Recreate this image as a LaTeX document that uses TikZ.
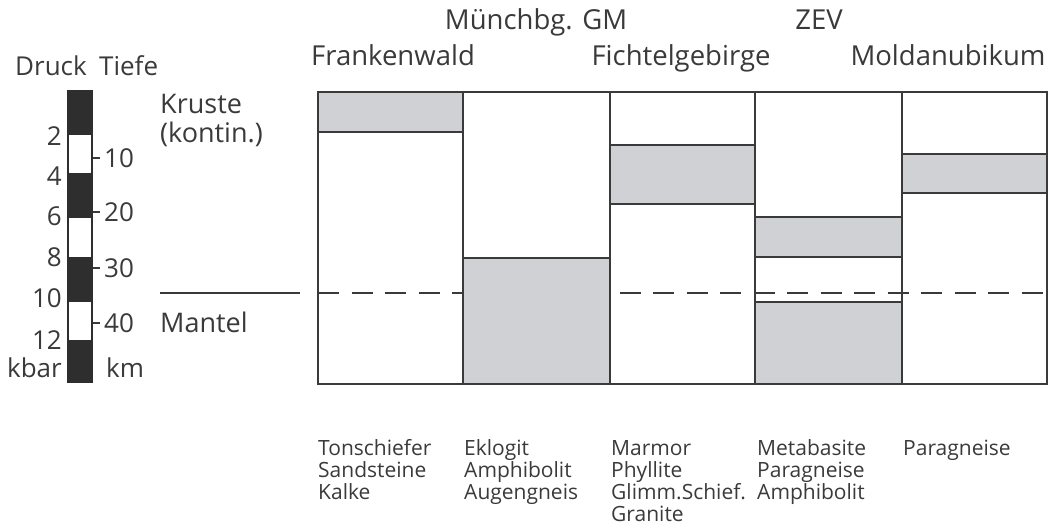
\documentclass[tikz,border=0pt]{standalone}
\usepackage{fontspec}
\setmainfont{Open Sans}
\usetikzlibrary{positioning}
\definecolor{rim}{HTML}{3A3A3A}
\definecolor{layer}{HTML}{D0D1D4}
\definecolor{scalebar}{HTML}{2E2E2E}
\tikzset{
  title/.style={font=\fontsize{27.5}{30}\selectfont, text=rim, inner sep=0pt, anchor=base},
  scal/.style={font=\fontsize{26}{29}\selectfont, text=rim, inner sep=0pt},
  rock/.style={font=\fontsize{21}{22}\selectfont, text=rim, inner sep=0pt,
    align=left, anchor=base west},
  frame/.style={draw=rim, line width=2.6pt},
  gray layer/.style={frame, fill=layer},
  moho/.style={draw=rim, line width=2.6pt, dash pattern=on 21pt off 12.5pt},
}
\begin{document}
\begin{tikzpicture}[x=1pt, y=-1pt]
  \useasboundingbox (0,0) rectangle (1059,527);

  \node[title] (muenchberg) at (536,30) {Münchbg. GM};
  \node[title] (zev) at (819,30) {ZEV};
  \node[title] (frankenwald) at (393,65) {Frankenwald};
  \node[title] (fichtel) at (681,65) {Fichtelgebirge};
  \node[title] (moldanubikum) at (948,65) {Moldanubikum};

  \node[scal, anchor=base west] (druck) at (15,75) {Druck};
  \node[scal, anchor=base west] (tiefe) at (99,75) {Tiefe};

  \fill[scalebar] (67,90) rectangle (93,383);
  \foreach \t/\u in {135/173, 218/257, 302/340}
    \fill[white] (69,\t) rectangle (91,\u);
  \foreach \p/\y in {2/136, 4/176, 6/216, 8/257, 10/298, 12/340}
    \node[scal, anchor=east] (p\p) at (62,\y) {\p};
  \node[scal, anchor=east] (kbar) at (62,368) {kbar};
  \foreach \d/\y in {10/158, 20/212, 30/268, 40/323} {
    \draw[rim, line width=1.8pt] (93,\y) -- (100,\y);
    \node[scal, anchor=west] (d\d) at (104,\y) {\d};
  }
  \node[scal, anchor=west] (km) at (106,368) {km};

  \node[scal, font=\fontsize{27}{29}\selectfont, anchor=base west, align=left]
    (kruste) at (160,142) {Kruste\\(kontin.)};
  \node[scal, font=\fontsize{27}{29}\selectfont, anchor=base west]
    (mantel) at (160,332) {Mantel};
  \draw[rim, line width=2.2pt] (160,293) -- (300,293);

  \draw[moho] (318,293) -- (1047,293);
  \foreach \a/\b/\t/\u in {318/463/92/132, 463/610/258/384, 610/755/145/204,
      755/902/217/257, 755/902/302/384, 902/1047/154/193}
    \draw[gray layer] (\a,\t) rectangle (\b,\u);
  \foreach \a/\b in {318/463, 463/610, 610/755, 755/902, 902/1047}
    \draw[frame] (\a,92) rectangle (\b,384);

  \node[rock] (fw) at (318,499) {Tonschiefer\\Sandsteine\\Kalke};
  \node[rock] (mgm) at (464,499) {Eklogit\\Amphibolit\\Augengneis};
  \node[rock] (fg) at (611,521) {Marmor\\Phyllite\\Glimm.Schief.\\Granite};
  \node[rock] (zv) at (757,499) {Metabasite\\Paragneise\\Amphibolit};
  \node[rock] (mk) at (903,455) {Paragneise};
\end{tikzpicture}
\end{document}
